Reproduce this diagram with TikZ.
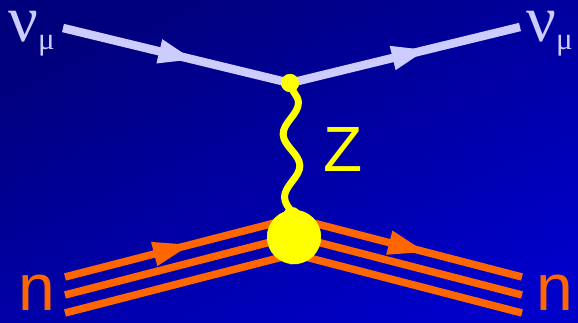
\documentclass[tikz,border=0pt]{standalone}
\usepackage{fontspec}
\setmainfont{Liberation Serif}
\newfontfamily\sansfont{Liberation Sans}
\usetikzlibrary{decorations.markings, decorations.pathmorphing}
\definecolor{bg-dark}{HTML}{00007C}
\definecolor{bg-light}{HTML}{0000C8}
\definecolor{nu-lilla}{HTML}{CCCCFF}
\definecolor{z-gul}{HTML}{FFFF00}
\definecolor{n-orange}{HTML}{FF6600}

\begin{document}
\begin{tikzpicture}[x=1pt, y=-1pt, line join=round,
    etiket/.style={inner sep=0pt, anchor=base west},
    fermion/.style={line width=#1, postaction={decorate}},
    pil/.style 2 args={decoration={markings, mark=at position #1 with
      {\fill (-#2,-12.5pt) -- (0pt,0pt) -- (-#2,12.5pt) -- cycle;}}},
    boson/.style={z-gul, line width=7pt, decorate,
      decoration={snake, segment length=63pt, amplitude=8pt}},
    prik/.style={circle, fill=z-gul, inner sep=0pt, minimum size=#1}]
  % baggrund
  \useasboundingbox (0,0) rectangle (578,323);
  \shade[top color=bg-dark, bottom color=bg-light, shading angle=25]
    (0,0) rectangle (578,323);
  % neutrinoer
  \coordinate (nuind) at (63,28);
  \coordinate (nuud) at (520,27);
  \node[prik=18pt] (top) at (290,83) {};
  \draw[fermion=8.5pt, pil={0.57}{34pt}, nu-lilla] (nuind) -- (top.center);
  \draw[fermion=8.5pt, pil={0.59}{34pt}, nu-lilla] (top.center) -- (nuud);
  \node[prik=18pt] at (top) {};
  % nukleon linjer
  \foreach \i/\dy in {1/-18, 2/0, 3/18}{
    \coordinate (ind\i) at (65,295+\dy);
    \coordinate (mid\i) at (294,236+\dy);
    \coordinate (ud\i) at (522,295+\dy);
  }
  \draw[fermion=7.5pt, pil={0.546}{37pt}, n-orange] (ind1) -- (mid1);
  \draw[fermion=7.5pt, pil={0.575}{37pt}, n-orange] (mid1) -- (ud1);
  \foreach \i in {2,3}{
    \draw[line width=7.5pt, n-orange] (ind\i) -- (mid\i) -- (ud\i);
  }
  % Z boson
  \node[prik=54pt] (kerne) at (294,237) {};
  \draw[boson] (top.center) -- (kerne.south);
  \node[prik=18pt] (zbund) at (292,216) {};
  \node[prik=54pt] at (kerne) {};
  % tekster
  \node[etiket, nu-lilla] (nuvenstre) at (8,42)
    {\fontsize{66}{66}\selectfont ν\raisebox{-8pt}{\fontsize{31}{31}\selectfont μ}};
  \node[etiket, nu-lilla] (nuhoejre) at (526,42)
    {\fontsize{66}{66}\selectfont ν\raisebox{-8pt}{\fontsize{31}{31}\selectfont μ}};
  \node[etiket, z-gul] (zlabel) at (323,172) {\sansfont\fontsize{64}{64}\selectfont Z};
  \node[etiket, n-orange] (nvenstre) at (18,310) {\sansfont\fontsize{66}{66}\selectfont n};
  \node[etiket, n-orange] (nhoejre) at (536,310) {\sansfont\fontsize{66}{66}\selectfont n};
\end{tikzpicture}
\end{document}
